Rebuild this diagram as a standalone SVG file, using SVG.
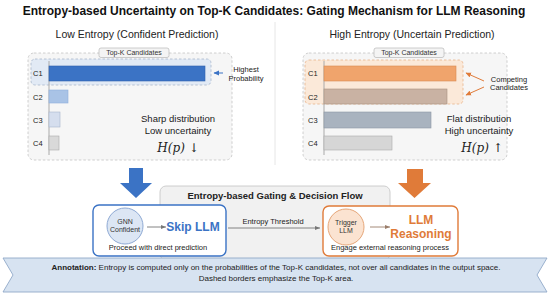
<svg xmlns="http://www.w3.org/2000/svg" width="550" height="295" viewBox="0 0 550 295">
<style>
text{font-family:"Liberation Sans",Arial,sans-serif;fill:#222}
.title{font-size:12px;font-weight:bold;fill:#111}
.sub{font-size:10.5px;fill:#222}
.lbl{font-size:7.5px;fill:#222}
.small{font-size:7px;fill:#333}
.mid{font-size:9.5px;fill:#1a1a1a}
.math{font-family:"DejaVu Serif","Liberation Serif",serif;font-style:italic;font-size:12px;fill:#222}
.blue{fill:#3b73c5;font-size:12px;font-weight:bold}
.orange{fill:#e07b39;font-size:12px;font-weight:bold}
.ann{font-size:8px;fill:#222}
.panel{fill:#f6f6f6;stroke:#c4c4c4;stroke-width:0.8;stroke-dasharray:2.5 2}
.tag{fill:#f4f4f4;stroke:#b8b8b8;stroke-width:0.7}
.axis{stroke:#aaa;stroke-width:1}
</style>
<defs>
<marker id="ab" markerWidth="6" markerHeight="6" refX="5" refY="3" orient="auto" markerUnits="userSpaceOnUse"><path d="M0,0.5 L5.5,3 L0,5.5 Z" fill="#3b73c5"/></marker>
<marker id="ao" markerWidth="6" markerHeight="6" refX="5" refY="3" orient="auto" markerUnits="userSpaceOnUse"><path d="M0,0.5 L5.5,3 L0,5.5 Z" fill="#e07b39"/></marker>
<marker id="ag" markerWidth="6" markerHeight="6" refX="5" refY="3" orient="auto" markerUnits="userSpaceOnUse"><path d="M0,1 L5,3 L0,5 Z" fill="#777"/></marker>
<marker id="abr" markerWidth="6" markerHeight="6" refX="5" refY="3" orient="auto" markerUnits="userSpaceOnUse"><path d="M0,1 L5,3 L0,5 Z" fill="#9a7d6a"/></marker>
</defs>
<rect width="550" height="295" fill="#ffffff"/>
<text class="title" x="274" y="14.5" text-anchor="middle">Entropy-based Uncertainty on Top-K Candidates: Gating Mechanism for LLM Reasoning</text>
<line x1="275" y1="22" x2="275" y2="165" stroke="#e6e6e6" stroke-width="1"/>

<g id="low-entropy-panel">
<text class="sub" x="137" y="38" text-anchor="middle">Low Entropy (Confident Prediction)</text>
<rect class="panel" x="28" y="53" width="204" height="107" rx="6"/>
<rect class="tag" x="99" y="48" width="70" height="9.5" rx="2"/>
<text class="small" x="134" y="55.3" text-anchor="middle">Top-K Candidates</text>
<rect x="31" y="59" width="180" height="26" rx="4" fill="#e2eaf5" stroke="#a9b8cc" stroke-width="0.8" stroke-dasharray="2.5 2"/>
<line class="axis" x1="49" y1="61" x2="49" y2="155"/>
<rect x="49" y="66" width="156" height="15" fill="#3b73c5" stroke="#2f62ad" stroke-width="0.6"/>
<rect x="49" y="90" width="19" height="13" fill="#a9c3e6" stroke="#8fb0dc" stroke-width="0.6"/>
<rect x="49" y="112" width="11" height="15" fill="#d5deee" stroke="#a8b5cc" stroke-width="0.6"/>
<rect x="49" y="136" width="10" height="14" fill="#d9d9d9" stroke="#aaaaaa" stroke-width="0.6"/>
<text class="lbl" x="33" y="76">C1</text>
<text class="lbl" x="33" y="99.5">C2</text>
<text class="lbl" x="33" y="122.5">C3</text>
<text class="lbl" x="33" y="146">C4</text>
<line x1="223" y1="73" x2="214" y2="73" stroke="#3b73c5" stroke-width="1" marker-end="url(#ab)"/>
<text class="lbl" x="246" y="72" text-anchor="middle">Highest</text>
<text class="lbl" x="246" y="80.5" text-anchor="middle">Probability</text>
<text class="mid" x="178" y="122" text-anchor="middle">Sharp distribution</text>
<text class="mid" x="178" y="133.5" text-anchor="middle">Low uncertainty</text>
<text class="math" x="178" y="152" text-anchor="middle">H(p) <tspan font-style="normal">↓</tspan></text>
</g>

<g id="high-entropy-panel">
<text class="sub" x="412" y="38" text-anchor="middle">High Entropy (Uncertain Prediction)</text>
<rect class="panel" x="303" y="53" width="204" height="107" rx="6"/>
<rect class="tag" x="374" y="48" width="70" height="9.5" rx="2"/>
<text class="small" x="409" y="55.3" text-anchor="middle">Top-K Candidates</text>
<rect x="305" y="60" width="158" height="44" rx="4" fill="#fbe9d9" stroke="#e8b48c" stroke-width="0.8" stroke-dasharray="2.5 2"/>
<line class="axis" x1="324" y1="61" x2="324" y2="155"/>
<rect x="324" y="66" width="132" height="15" fill="#f0a46c" stroke="#d98a52" stroke-width="0.6"/>
<rect x="324" y="89" width="123" height="15" fill="#c9b2a3" stroke="#a8917f" stroke-width="0.6"/>
<rect x="324" y="112" width="107" height="16" fill="#a9b3bf" stroke="#8c97a4" stroke-width="0.6"/>
<rect x="324" y="136" width="68" height="14" fill="#d6d6d6" stroke="#aaaaaa" stroke-width="0.6"/>
<text class="lbl" x="308" y="76">C1</text>
<text class="lbl" x="308" y="99.5">C2</text>
<text class="lbl" x="308" y="122.5">C3</text>
<text class="lbl" x="308" y="146">C4</text>
<line x1="484" y1="81" x2="466" y2="73" stroke="#e07b39" stroke-width="1" marker-end="url(#ao)"/>
<line x1="484" y1="87" x2="466" y2="95" stroke="#e07b39" stroke-width="1" marker-end="url(#ao)"/>
<text class="lbl" x="509" y="81.5" text-anchor="middle">Competing</text>
<text class="lbl" x="509" y="90" text-anchor="middle">Candidates</text>
<text class="mid" x="479" y="122" text-anchor="middle">Flat distribution</text>
<text class="mid" x="479" y="133.5" text-anchor="middle">High uncertainty</text>
<text class="math" x="482" y="152" text-anchor="middle">H(p) <tspan font-style="normal">↑</tspan></text>
</g>

<g id="gating-flow">
<rect x="160" y="186" width="230" height="74" rx="6" fill="#f1f1f1" stroke="#c8c8c8" stroke-width="0.9"/>
<text x="275" y="198.5" text-anchor="middle" style="font-size:9.5px;font-weight:bold;fill:#222">Entropy-based Gating &amp; Decision Flow</text>
</g>

<g id="skip-llm">
<rect x="93" y="205" width="133" height="51" rx="6" fill="#ffffff" stroke="#3b73c5" stroke-width="1.4"/>
<circle cx="125" cy="226" r="18" fill="#dce6f4" stroke="#8faad4" stroke-width="1"/>
<text class="small" x="125" y="223.5" text-anchor="middle">GNN</text>
<text class="small" x="125" y="232" text-anchor="middle">Confident</text>
<text class="blue" x="193" y="231" text-anchor="middle">Skip LLM</text>
<text class="lbl" x="158" y="250" text-anchor="middle">Proceed with direct prediction</text>
</g>

<g id="llm-reasoning">
<rect x="323" y="206" width="135" height="50" rx="6" fill="#ffffff" stroke="#e07b39" stroke-width="1.4"/>
<circle cx="346" cy="227" r="18" fill="#fbe3d1" stroke="#e6a77a" stroke-width="1"/>
<text class="small" x="346" y="224.5" text-anchor="middle">Trigger</text>
<text class="small" x="346" y="233" text-anchor="middle">LLM</text>
<text class="orange" x="421" y="224" text-anchor="middle">LLM</text>
<text class="orange" x="421" y="237.5" text-anchor="middle">Reasoning</text>
<text class="lbl" x="390" y="250" text-anchor="middle">Engage external reasoning process</text>
</g>

<g id="connectors">
<path d="M129,168 H143 V183 H152 L136,198 L120,183 H129 Z" fill="#3b73c5"/>
<path d="M407,169 H423 V183 H431 L414.5,198 L398,183 H407 Z" fill="#e07b39"/>
<line x1="147" y1="227" x2="166" y2="227" stroke="#777" stroke-width="0.9" marker-end="url(#ag)"/>
<line x1="370" y1="227" x2="390" y2="227" stroke="#9a7d6a" stroke-width="0.9" marker-end="url(#abr)"/>
<line x1="228" y1="228" x2="320" y2="228" stroke="#777" stroke-width="0.9" marker-end="url(#ag)"/>
<text class="lbl" x="273" y="224" text-anchor="middle">Entropy Threshold</text>
</g>

<g id="annotation">
<path d="M3,258 H547 L537,275 L547,292 H3 L13,275 Z" fill="#d7e3f1" stroke="#91a9c8" stroke-width="0.9"/>
<text class="ann" x="276" y="270" text-anchor="middle"><tspan font-weight="bold">Annotation:</tspan> Entropy is computed only on the probabilities of the Top-K candidates, not over all candidates in the output space.</text>
<text class="ann" x="276" y="281" text-anchor="middle">Dashed borders emphasize the Top-K area.</text>
</g>
</svg>
